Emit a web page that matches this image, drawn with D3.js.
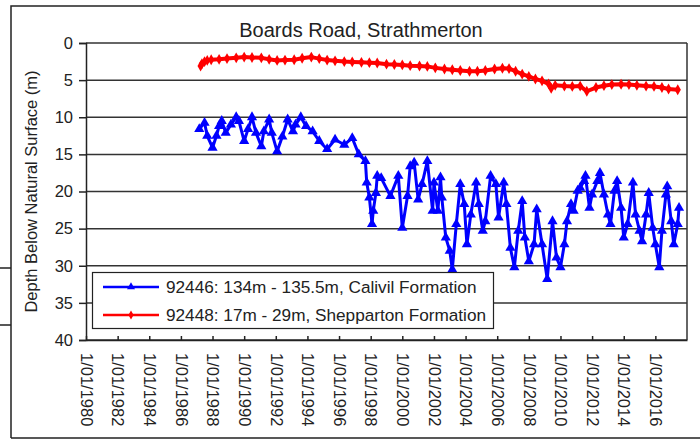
<!DOCTYPE html>
<html>
<head>
<meta charset="utf-8">
<script src="https://cdn.jsdelivr.net/npm/d3@7"></script>
<style>
  body { margin: 0; background: #fff; }
  text { font-family: "Liberation Sans", Arial, sans-serif; fill: #222; }
</style>
</head>
<body>
<div id="chart"></div>
<script>
// bore 92446 (deep, Calivil) - month, depth in metres
var calivilDates = ["1987-03","1987-07","1987-09","1988-01","1988-04","1988-06","1988-08","1988-11","1989-03","1989-07",
  "1989-09","1990-01","1990-04","1990-07","1990-10","1991-02","1991-04","1991-08","1991-10","1992-02",
  "1992-06","1992-10","1993-02","1993-04","1993-08","1993-12","1994-05","1994-10","1995-04","1995-10",
  "1996-05","1996-11","1997-04","1997-09","1997-10","1997-12","1998-02","1998-03","1998-05","1998-06",
  "1998-09","1999-04","1999-10","2000-01","2000-05","2000-07","2000-10","2001-01","2001-04","2001-08",
  "2001-12","2002-01","2002-04","2002-06","2002-07","2002-10","2003-01","2003-03","2003-06","2003-09",
  "2003-12","2004-02","2004-05","2004-09","2004-11","2005-02","2005-04","2005-08","2005-12","2006-02",
  "2006-06","2006-08","2006-11","2007-02","2007-05","2007-08","2007-10","2008-01","2008-05","2008-07",
  "2008-11","2009-03","2009-07","2009-10","2010-01","2010-04","2010-06","2010-09","2010-11","2011-02",
  "2011-04","2011-07","2011-08","2011-11","2012-01","2012-05","2012-07","2012-10","2013-01","2013-03",
  "2013-06","2013-08","2013-11","2014-01","2014-04","2014-08","2014-10","2015-01","2015-03","2015-06",
  "2015-08","2015-11","2016-01","2016-04","2016-06","2016-09","2016-10","2017-01","2017-03","2017-06",
  "2017-07"];
var calivilDepth = [11.6,10.75,12.5,14.1,12.5,11.2,10.5,12.1,11.0,10.0,
  10.5,13.2,11.6,10.0,12.1,13.9,11.9,10.3,12.1,14.6,
  12.6,10.3,11.9,11.0,10.0,11.2,11.9,13.2,14.3,13.0,
  13.7,12.8,15.0,15.9,18.8,20.8,24.4,22.6,20.2,17.9,
  18.2,20.6,17.9,24.9,20.6,16.6,16.1,21.1,19.0,15.9,
  22.6,18.8,22.6,18.1,20.8,26.2,28.0,30.5,24.4,19.0,
  21.7,27.1,23.1,18.8,21.7,25.3,24.0,17.9,19.0,23.5,
  18.8,21.7,27.6,30.2,25.3,21.3,26.2,29.4,27.1,22.4,
  27.1,31.8,24.0,28.9,30.2,27.1,24.0,21.7,22.6,19.9,
  19.5,18.6,17.9,22.2,20.4,18.6,17.5,20.4,23.1,24.4,
  19.9,18.6,22.2,26.2,24.4,18.8,23.1,25.3,26.7,23.1,
  20.2,24.9,27.1,30.2,25.3,20.4,19.3,24.0,27.1,24.4,
  22.2];

// bore 92448 (shallow, Shepparton)
var sheppDates = ["1987-04","1987-05","1987-07","1987-09","1987-12","1988-06","1988-12","1989-07","1990-01","1990-07",
  "1991-02","1991-08","1992-02","1992-08","1993-03","1993-09","1994-04","1994-10","1995-04","1995-10",
  "1996-05","1996-11","1997-06","1997-12","1998-06","1999-01","1999-07","2000-01","2000-07","2001-02",
  "2001-08","2002-02","2002-09","2003-03","2003-09","2004-04","2004-10","2005-04","2005-11","2006-05",
  "2006-10","2007-03","2007-08","2008-01","2008-06","2008-11","2009-04","2009-06","2009-09","2010-04",
  "2010-10","2011-04","2011-09","2012-04","2012-10","2013-04","2013-11","2014-05","2014-11","2015-06",
  "2015-12","2016-06","2016-11","2017-06"];
var sheppDepth = [3.1,2.8,2.5,2.35,2.25,2.2,2.1,2.0,1.9,1.95,
  2.0,2.2,2.35,2.3,2.25,2.05,1.9,2.1,2.3,2.4,
  2.5,2.55,2.6,2.65,2.7,2.85,2.9,2.95,3.05,3.1,
  3.15,3.35,3.5,3.6,3.7,3.8,3.8,3.7,3.5,3.4,
  3.45,3.8,4.2,4.5,4.85,5.1,5.5,6.1,5.7,5.8,
  5.85,5.8,6.5,6.0,5.75,5.6,5.55,5.6,5.7,5.8,
  5.85,6.0,6.2,6.3];

var tickYears = [1980,1982,1984,1986,1988,1990,1992,1994,1996,1998,2000,2002,2004,2006,2008,2010,2012,2014,2016];
var depthTicks = [0,5,10,15,20,25,30,35,40];
var seriesNames = ["92446: 134m - 135.5m, Calivil Formation", "92448: 17m - 29m, Shepparton Formation"];
var seriesColors = ["#0000ff", "#ff0000"];

var width = 700, height = 440;
var plot = { left: 86, right: 687, top: 43, bottom: 340 };

var parseMonth = d3.timeParse("%Y-%m");
var fmt = d3.timeFormat("%-d/%m/%Y");

var calivil = calivilDates.map(function(d, i) { return { date: parseMonth(d), depth: calivilDepth[i] }; });
var shepp = sheppDates.map(function(d, i) { return { date: parseMonth(d), depth: sheppDepth[i] }; });

var x = d3.scaleTime()
    .domain([new Date(1980, 0, 1), new Date(2018, 0, 1)])
    .range([plot.left, plot.right]);

var y = d3.scaleLinear()
    .domain([0, 40])
    .range([plot.top, plot.bottom]);

var svg = d3.select("#chart").append("svg")
    .attr("width", width)
    .attr("height", height);

// outer frame of the embedded chart
svg.append("path")
    .attr("d", "M11,438 V6 H700 M11,438 H700")
    .attr("fill", "none")
    .attr("stroke", "#222")
    .attr("stroke-width", 1.5);
svg.append("path")
    .attr("d", "M0,268 H11 M0,325 H11")
    .attr("stroke", "#222")
    .attr("stroke-width", 1.5);

svg.append("text")
    .attr("x", 361)
    .attr("y", 37)
    .attr("text-anchor", "middle")
    .style("font-size", "20px")
    .text("Boards Road, Strathmerton");

// gridlines
svg.append("g")
  .selectAll("line")
  .data(depthTicks)
  .enter().append("line")
    .attr("x1", plot.left)
    .attr("x2", plot.right)
    .attr("y1", function(d) { return y(d); })
    .attr("y2", function(d) { return y(d); })
    .attr("stroke", "#333")
    .attr("stroke-width", 1.5);

svg.append("line")
    .attr("x1", plot.right).attr("x2", plot.right)
    .attr("y1", plot.top).attr("y2", plot.bottom)
    .attr("stroke", "#333")
    .attr("stroke-width", 1.5);

var yAxis = svg.append("g")
    .attr("transform", "translate(" + plot.left + ",0)")
    .call(d3.axisLeft(y).tickValues(depthTicks).tickSize(7).tickPadding(6));
yAxis.selectAll("text").style("font-size", "16.5px").attr("fill", "#222");
yAxis.selectAll("line, path").attr("stroke", "#222").attr("stroke-width", 1.5);

var xAxis = svg.append("g")
    .attr("transform", "translate(0," + plot.bottom + ")")
    .call(d3.axisBottom(x)
      .tickValues(tickYears.map(function(yr) { return new Date(yr, 0, 1); }))
      .tickFormat(fmt)
      .tickSizeInner(-4)
      .tickSizeOuter(0));
xAxis.selectAll("line, path").attr("stroke", "#222").attr("stroke-width", 1.5);
xAxis.selectAll("text")
    .style("font-size", "16.5px")
    .attr("fill", "#222")
    .attr("text-anchor", "start")
    .attr("transform", "rotate(90)")
    .attr("x", 13)
    .attr("y", 0)
    .attr("dy", "0.35em");

svg.append("text")
    .attr("transform", "translate(37," + ((plot.top + plot.bottom) / 2) + ") rotate(-90)")
    .attr("text-anchor", "middle")
    .style("font-size", "16.5px")
    .text("Depth Below Natural Surface (m)");

var line = d3.line()
    .x(function(d) { return x(d.date); })
    .y(function(d) { return y(d.depth); });

var tri = d3.symbol().type(d3.symbolTriangle).size(45);
var dia = d3.symbol().type(d3.symbolDiamond).size(34);

svg.append("path")
    .datum(calivil)
    .attr("fill", "none")
    .attr("stroke", seriesColors[0])
    .attr("stroke-width", 3)
    .attr("stroke-linejoin", "round")
    .attr("d", line);
svg.append("g").selectAll("path")
    .data(calivil)
    .enter().append("path")
    .attr("transform", function(d) { return "translate(" + x(d.date) + "," + y(d.depth) + ")"; })
    .attr("d", tri)
    .attr("fill", seriesColors[0]);

svg.append("path")
    .datum(shepp)
    .attr("fill", "none")
    .attr("stroke", seriesColors[1])
    .attr("stroke-width", 4)
    .attr("stroke-linejoin", "round")
    .attr("d", line);
svg.append("g").selectAll("path")
    .data(shepp)
    .enter().append("path")
    .attr("transform", function(d) { return "translate(" + x(d.date) + "," + y(d.depth) + ")"; })
    .attr("d", dia)
    .attr("fill", seriesColors[1]);

// legend
var legend = svg.append("g");
legend.append("rect")
    .attr("x", 92.5).attr("y", 272.5)
    .attr("width", 401).attr("height", 56)
    .attr("fill", "#fff")
    .attr("stroke", "#222")
    .attr("stroke-width", 1.2);

var rows = legend.selectAll("g.row")
    .data(seriesNames)
  .enter().append("g")
    .attr("class", "row")
    .attr("transform", function(d, i) { return "translate(0," + (287 + i * 28) + ")"; });
rows.append("line")
    .attr("x1", 103).attr("x2", 159)
    .attr("stroke", function(d, i) { return seriesColors[i]; })
    .attr("stroke-width", 2.5);
rows.append("path")
    .attr("transform", "translate(131,0)")
    .attr("d", function(d, i) { return i === 0 ? d3.symbol().type(d3.symbolTriangle).size(28)() : d3.symbol().type(d3.symbolDiamond).size(24)(); })
    .attr("fill", function(d, i) { return seriesColors[i]; });
rows.append("text")
    .attr("x", 166)
    .attr("dy", "0.35em")
    .style("font-size", "17.2px")
    .text(function(d) { return d; });
</script>
</body>
</html>
